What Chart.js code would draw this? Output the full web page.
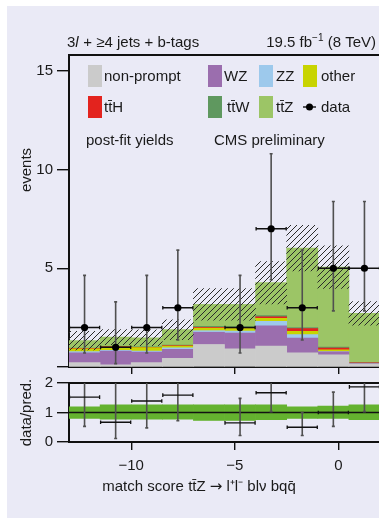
<!DOCTYPE html>
<html>
<head>
<meta charset="utf-8">
<title>ttZ match score</title>
<script src="https://cdn.jsdelivr.net/npm/chart.js@4.4.1/dist/chart.umd.min.js"></script>
<style>
  html, body { margin: 0; padding: 0; background: #fff; overflow: hidden; width: 379px; height: 519px; }
  #frame { position: absolute; left: 7px; top: 6px; width: 372px; height: 512px; background: #eaeaf6; }
  #main { position: absolute; left: 0; top: 0; width: 390px; height: 380px; }
  #ratio { position: absolute; left: 0; top: 370px; width: 390px; height: 149px; }
</style>
</head>
<body>
<div id="frame"></div>
<canvas id="main" width="390" height="380"></canvas>
<canvas id="ratio" width="390" height="149"></canvas>
<script>
// bins of the match score (width 1.5)
const xMin = -13;
const xMax = 2;
const binHalfWidth = 0.75;
const binCenters = [-12.25, -10.75, -9.25, -7.75, -6.25, -4.75, -3.25, -1.75, -0.25, 1.25];

// post-fit yields, stacked bottom -> top
const nonPrompt = [0.22, 0.11, 0.22, 0.44, 1.14, 0.92, 1.06, 0.72, 0.61, 0.15];
const wz        = [0.50, 0.70, 0.54, 0.45, 0.62, 0.80, 1.03, 0.75, 0.16, 0.02];
const zz        = [0.06, 0.04, 0.05, 0.08, 0.08, 0.10, 0.22, 0.17, 0.01, 0.00];
const other     = [0.14, 0.16, 0.17, 0.09, 0.13, 0.13, 0.16, 0.17, 0.09, 0.01];
const ttH       = [0.02, 0.02, 0.02, 0.02, 0.04, 0.04, 0.07, 0.13, 0.09, 0.03];
const ttW       = [0.02, 0.02, 0.02, 0.03, 0.05, 0.05, 0.06, 0.06, 0.05, 0.02];
const ttZ       = [0.38, 0.46, 0.46, 0.78, 1.11, 1.13, 1.67, 4.02, 4.05, 2.49];

// total uncertainty band (hatched)
const uncLow  = [0.87, 1.13, 1.08, 1.39, 2.37, 2.37, 3.20, 4.87, 3.98, 2.12];
const uncHigh = [1.81, 1.89, 1.88, 2.39, 3.97, 3.97, 5.34, 7.17, 6.14, 3.31];

// observed events
const dataCounts = [2, 1, 2, 3, null, 2, 7, 3, 5, 5];
const dataLow    = [0.71, 0.17, 0.71, 1.37, null, 0.71, 4.42, 1.37, 2.84, 2.84];
const dataHigh   = [4.64, 3.30, 4.64, 5.92, null, 4.64, 10.8, 5.92, 8.38, 8.38];

// data / prediction
const ratioVals = [1.52, 0.67, 1.39, 1.59, null, 0.65, 1.67, 0.50, 1.00, 1.87];
const ratioLow  = [0.53, 0.12, 0.48, 0.72, null, 0.22, 1.03, 0.22, 0.53, 1.03];
const ratioHigh = [3.46, 2.19, 3.14, 3.13, null, 1.48, 2.53, 1.00, 1.69, 3.08];
const bandLow   = [0.80, 0.77, 0.77, 0.77, 0.73, 0.73, 0.76, 0.80, 0.80, 0.76];
const bandHigh  = [1.19, 1.26, 1.26, 1.26, 1.26, 1.26, 1.26, 1.19, 1.22, 1.26];

// tick labels
const xTicks = [-10, -5, 0];
const mainYTicks = [0, 5, 10, 15];
const ratioYTicks = [0, 1, 2];

const processNames  = ['non-prompt', 'WZ', 'ZZ', 'other', 'tt\u0304H', 'tt\u0304W', 'tt\u0304Z'];
const processYields = [nonPrompt, wz, zz, other, ttH, ttW, ttZ];
const processColors = ['#cbcbcb', '#9b6eae', '#9dc9ec', '#c8d400', '#e3231e', '#5f985f', '#9cc566'];

const FONT = "'Liberation Sans', Arial, sans-serif";
const INK = '#1a1a1a';

function makeHatch(ctx) {
    const c = document.createElement('canvas');
    c.width = 6;
    c.height = 6;
    const g = c.getContext('2d');
    g.strokeStyle = '#2a2a2a';
    g.lineWidth = 1;
    g.beginPath();
    g.moveTo(-1, 7); g.lineTo(7, -1);
    g.moveTo(-1, 1); g.lineTo(1, -1);
    g.moveTo(5, 7); g.lineTo(7, 5);
    g.stroke();
    return ctx.createPattern(c, 'repeat');
}

function setTicks(values) {
    return scale => { scale.ticks = values.map(v => ({ value: v })); };
}

function minusSign(v) {
    return String(v).replace('-', '\u2212');
}

function drawErrorBars(chart, vals, lows, highs) {
    const { ctx, chartArea, scales: { x, y } } = chart;
    ctx.save();
    ctx.beginPath();
    ctx.rect(chartArea.left, chartArea.top, chartArea.right - chartArea.left, chartArea.bottom - chartArea.top);
    ctx.clip();
    binCenters.forEach((c, i) => {
        if (vals[i] == null) return;
        const px = x.getPixelForValue(c);
        const py = y.getPixelForValue(vals[i]);
        const xl = x.getPixelForValue(c - binHalfWidth);
        const xr = x.getPixelForValue(c + binHalfWidth);
        const yl = y.getPixelForValue(lows[i]);
        const yh = y.getPixelForValue(highs[i]);

        ctx.strokeStyle = '#505050';
        ctx.lineWidth = 1.6;
        ctx.beginPath();
        ctx.moveTo(px, yl); ctx.lineTo(px, yh);
        ctx.moveTo(px - 1.5, yl); ctx.lineTo(px + 1.5, yl);
        ctx.moveTo(px - 1.5, yh); ctx.lineTo(px + 1.5, yh);
        ctx.stroke();

        ctx.strokeStyle = '#111';
        ctx.lineWidth = 1.3;
        ctx.beginPath();
        ctx.moveTo(xl, py); ctx.lineTo(xr, py);
        ctx.moveTo(xl + 0.5, py - 1.8); ctx.lineTo(xl + 0.5, py + 1.8);
        ctx.moveTo(xr - 0.5, py - 1.8); ctx.lineTo(xr - 0.5, py + 1.8);
        ctx.stroke();
    });
    ctx.restore();
}

// draws a row of text pieces [text, font], centred on cx
function drawPieces(ctx, pieces, cx, y) {
    let total = 0;
    pieces.forEach(([t, f]) => { ctx.font = f; total += ctx.measureText(t).width; });
    let x = cx - total / 2;
    pieces.forEach(([t, f]) => {
        ctx.font = f;
        ctx.fillText(t, x, y);
        x += ctx.measureText(t).width;
    });
}

const mainDecor = {
    id: 'mainDecor',
    beforeDatasetDraw(chart, args) {
        if (chart.data.datasets[args.index].role === 'data') {
            drawErrorBars(chart, dataCounts, dataLow, dataHigh);
        }
    },
    afterDraw(chart) {
        const ctx = chart.ctx;
        const normal = `15px ${FONT}`;
        ctx.save();
        ctx.fillStyle = INK;
        ctx.textAlign = 'left';
        ctx.textBaseline = 'alphabetic';

        // header left: 3l + >=4 jets + b-tags
        let tx = 67;
        ctx.font = normal;
        ctx.fillText('3', tx, 47);
        tx += ctx.measureText('3').width;
        ctx.font = `italic 15px ${FONT}`;
        ctx.fillText('l', tx, 47);
        tx += ctx.measureText('l').width + 0.5;
        ctx.font = normal;
        ctx.fillText(' + \u22654 jets + b-tags', tx, 47);

        // header right: 19.5 fb^-1 (8 TeV)
        const partA = '19.5 fb';
        const sup = '\u22121';
        const partB = ' (8 TeV)';
        ctx.font = normal;
        const wA = ctx.measureText(partA).width;
        const wB = ctx.measureText(partB).width;
        ctx.font = `10px ${FONT}`;
        const wS = ctx.measureText(sup).width;
        const rx = 376 - wA - wS - wB;
        ctx.font = normal;
        ctx.fillText(partA, rx, 47);
        ctx.font = `10px ${FONT}`;
        ctx.fillText(sup, rx + wA, 41);
        ctx.font = normal;
        ctx.fillText(partB, rx + wA + wS, 47);

        // legend
        const slots = [
            { rx: 88, tx: 104, y: 76 }, { rx: 208, tx: 224, y: 76 },
            { rx: 259, tx: 276, y: 76 }, { rx: 303, tx: 321, y: 76 },
            { rx: 88, tx: 104, y: 107 }, { rx: 208, tx: 227, y: 107 },
            { rx: 259, tx: 276, y: 107 }
        ];
        ctx.textBaseline = 'middle';
        processNames.forEach((name, i) => {
            const s = slots[i];
            ctx.fillStyle = processColors[i];
            ctx.fillRect(s.rx, s.y - 11, 14, 22);
            ctx.fillStyle = INK;
            ctx.fillText(name, s.tx, s.y + 1);
        });
        ctx.strokeStyle = '#000';
        ctx.lineWidth = 1.3;
        ctx.beginPath();
        ctx.moveTo(303, 107); ctx.lineTo(316, 107);
        ctx.stroke();
        ctx.fillStyle = '#000';
        ctx.beginPath();
        ctx.arc(309.5, 107, 3.5, 0, Math.PI * 2);
        ctx.fill();
        ctx.fillStyle = INK;
        ctx.fillText('data', 321, 108);

        ctx.fillText('post-fit yields', 86, 141);
        ctx.fillText('CMS preliminary', 214, 141);

        // y title
        ctx.translate(27, 170);
        ctx.rotate(-Math.PI / 2);
        ctx.textAlign = 'center';
        ctx.fillText('events', 0, 0);
        ctx.restore();
    }
};

const ratioDecor = {
    id: 'ratioDecor',
    afterDatasetsDraw(chart) {
        drawErrorBars(chart, ratioVals, ratioLow, ratioHigh);
    },
    afterDraw(chart) {
        const ctx = chart.ctx;
        const normal = `15px ${FONT}`;
        ctx.save();
        ctx.fillStyle = INK;
        ctx.textAlign = 'left';
        ctx.textBaseline = 'middle';
        drawPieces(ctx, [
            ['match score tt\u0304Z ', normal],
            ['\u2192', `15px 'DejaVu Sans', sans-serif`],
            [' l\u207Al\u207B bl\u03BD bqq\u0304', normal]
        ], 199, 117);
        ctx.restore();
    }
};

const axisFont = { family: FONT, size: 15 };

const mainCanvas = document.getElementById('main');
const hatch = makeHatch(mainCanvas.getContext('2d'));

const mainDatasets = processNames.map((name, i) => ({
    type: 'bar',
    label: name,
    stack: 'mc',
    grouped: false,
    order: 2,
    data: binCenters.map((c, j) => ({ x: c, y: processYields[i][j] })),
    backgroundColor: processColors[i],
    borderWidth: 0,
    barPercentage: 1,
    categoryPercentage: 1
}));
mainDatasets.push({
    type: 'bar',
    label: 'uncertainty',
    stack: 'unc',
    grouped: false,
    order: 1,
    data: binCenters.map((c, j) => ({ x: c, y: [uncLow[j], uncHigh[j]] })),
    backgroundColor: hatch,
    borderWidth: 0,
    barPercentage: 1,
    categoryPercentage: 1
});
mainDatasets.push({
    type: 'scatter',
    role: 'data',
    label: 'data',
    stack: 'data',
    order: 0,
    data: binCenters.map((c, j) => ({ x: c, y: dataCounts[j] })).filter(p => p.y != null),
    pointRadius: 3.6,
    pointBackgroundColor: '#000',
    pointBorderWidth: 0
});

new Chart(mainCanvas, {
    type: 'bar',
    data: { datasets: mainDatasets },
    options: {
        responsive: false,
        animation: false,
        events: [],
        layout: { padding: { top: 55, right: 10, left: 0, bottom: 0 } },
        plugins: { legend: { display: false }, tooltip: { enabled: false } },
        scales: {
            x: {
                type: 'linear',
                min: xMin,
                max: xMax,
                offset: false,
                afterBuildTicks: setTicks(xTicks),
                afterFit: s => { s.height = 11; },
                ticks: { display: false },
                grid: { offset: false, drawOnChartArea: false, tickLength: 7, color: '#111', lineWidth: 1.4 },
                border: { color: '#111', width: 2 }
            },
            xTop: {
                type: 'linear',
                position: 'top',
                min: xMin,
                max: xMax,
                afterFit: s => { s.height = 0; },
                ticks: { display: false },
                grid: { display: false },
                border: { color: '#111', width: 2 }
            },
            y: {
                stacked: true,
                min: 0,
                max: 15.8,
                afterBuildTicks: setTicks(mainYTicks),
                afterFit: s => { s.width = 69; },
                ticks: { font: axisFont, color: INK, padding: 4, callback: v => (v === 0 ? '' : v) },
                grid: { drawOnChartArea: false, tickLength: 12, color: '#111', lineWidth: 1.4 },
                border: { color: '#111', width: 2 }
            }
        }
    },
    plugins: [mainDecor]
});

new Chart(document.getElementById('ratio'), {
    type: 'bar',
    data: {
        datasets: [
            {
                type: 'bar',
                label: 'uncertainty',
                order: 2,
                data: binCenters.map((c, j) => ({ x: c, y: [bandLow[j], bandHigh[j]] })),
                backgroundColor: '#64b22f',
                borderWidth: 0,
                barPercentage: 1,
                categoryPercentage: 1
            },
            {
                type: 'line',
                label: 'unity',
                order: 1,
                data: [{ x: xMin, y: 1 }, { x: xMax, y: 1 }],
                borderColor: '#111',
                borderWidth: 1.3,
                pointRadius: 0
            },
            {
                type: 'scatter',
                label: 'data/pred.',
                order: 0,
                data: binCenters.map((c, j) => ({ x: c, y: ratioVals[j] })).filter(p => p.y != null),
                pointRadius: 0
            }
        ]
    },
    options: {
        responsive: false,
        animation: false,
        events: [],
        layout: { padding: { top: 11, right: 10, left: 0, bottom: 0 } },
        plugins: { legend: { display: false }, tooltip: { enabled: false } },
        scales: {
            x: {
                type: 'linear',
                min: xMin,
                max: xMax,
                offset: false,
                afterBuildTicks: setTicks(xTicks),
                afterFit: s => { s.height = 77; },
                ticks: { font: axisFont, color: INK, padding: 7, callback: v => minusSign(v) },
                grid: { offset: false, drawOnChartArea: false, tickLength: 8, color: '#111', lineWidth: 1.4 },
                border: { color: '#111', width: 2 }
            },
            xTop: {
                type: 'linear',
                position: 'top',
                min: xMin,
                max: xMax,
                afterFit: s => { s.height = 0; },
                ticks: { display: false },
                grid: { display: false },
                border: { color: '#111', width: 2 }
            },
            y: {
                min: 0,
                max: 2,
                afterBuildTicks: setTicks(ratioYTicks),
                afterFit: s => { s.width = 69; },
                ticks: { font: axisFont, color: INK, padding: 4 },
                grid: { drawOnChartArea: false, tickLength: 12, color: '#111', lineWidth: 1.4 },
                border: { color: '#111', width: 2 },
                title: { display: true, text: 'data/pred.', font: axisFont, color: INK, padding: { top: 18, bottom: 0 } }
            }
        }
    },
    plugins: [ratioDecor]
});
</script>
</body>
</html>
